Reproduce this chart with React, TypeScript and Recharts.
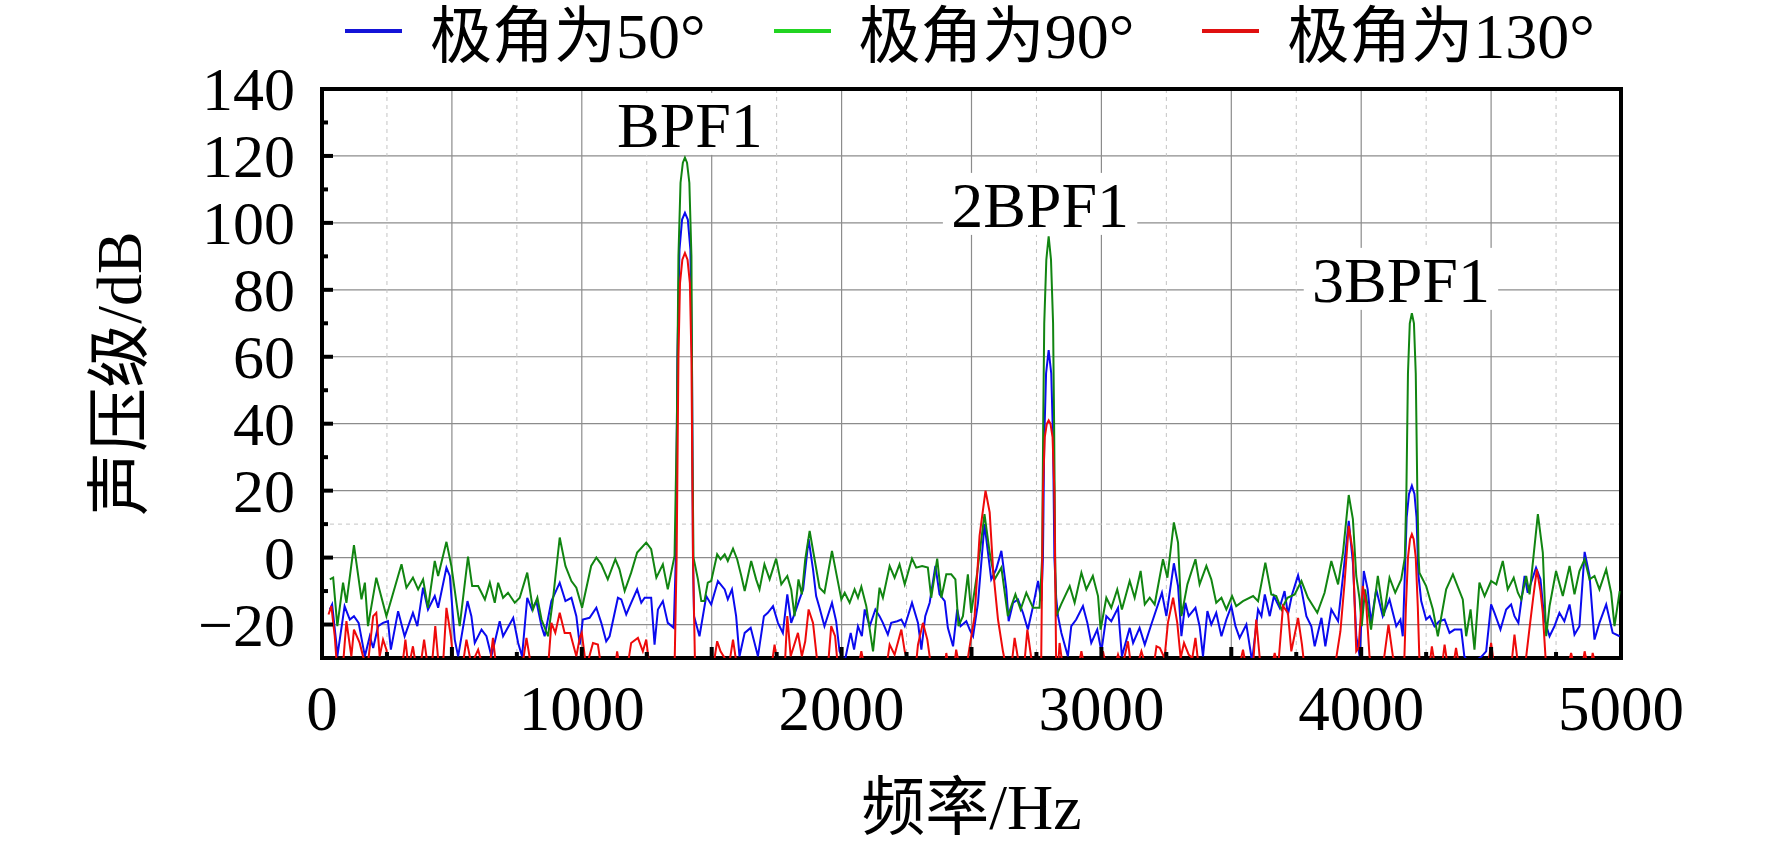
import React from 'react';
import {
  CartesianGrid,
  Line,
  LineChart,
  ReferenceArea,
  ReferenceDot,
  XAxis,
  YAxis,
} from 'recharts';

// Spectrum: [frequency Hz, SPL dB]. Values under the
// -30 dB floor are written as -33 and clipped by the plot area.
const POLAR_50: [number, number][] = [
  [30, -15.5], [39, -14], [55, -25.5], [59, -29.5], [87, -14.5], [107, -18.5], [123, -17.5],
  [141, -19.5], [165, -29.5], [184, -23.5], [197, -27], [216, -20.5], [235, -19.5], [254, -19],
  [265, -27.5], [293, -16], [318, -23.5], [350, -16.5], [367, -20.5], [389, -9], [408, -15.5],
  [434, -11.5], [447, -15], [479, -3], [492, -5.5], [511, -24.5], [524, -29.5], [560, -13],
  [575, -17.5], [588, -25.5], [614, -21.5], [633, -23.5], [652, -29.5], [684, -19], [697, -23.5],
  [736, -18], [755, -25.5], [770, -29.5], [790, -12], [808, -15.5], [825, -13], [845, -20.5],
  [857, -23.5], [883, -13], [915, -7.5], [937, -13], [960, -12], [979, -17.5], [992, -26],
  [1004, -18.5], [1030, -18], [1056, -15], [1075, -19.5], [1094, -25], [1107, -23.5],
  [1139, -12], [1152, -12.5], [1171, -17], [1190, -13.5], [1213, -9.5], [1229, -13.5],
  [1242, -12], [1267, -12], [1280, -26], [1293, -15.5], [1312, -13], [1331, -19.5], [1354, -21],
  [1362, 0], [1368, 60], [1376, 92], [1386, 101], [1397, 103], [1408, 101], [1418, 92],
  [1424, 60], [1428, 0], [1432, -17.5],
  [1453, -23.5], [1479, -11.5], [1498, -14], [1524, -7], [1550, -9.5], [1562, -12.5],
  [1578, -9.5], [1594, -17.5], [1607, -29.5], [1627, -22.5], [1650, -21], [1678, -29.5],
  [1701, -17.5], [1716, -16.5], [1736, -14.5], [1755, -19.5], [1774, -22.5], [1791, -11],
  [1806, -19.5], [1825, -15.5], [1838, -12.5], [1852, -9.5], [1873, 5.5], [1890, -3.5],
  [1902, -11.5], [1915, -15], [1934, -20.5], [1963, -13.5], [1979, -19], [1992, -28],
  [2012, -31], [2035, -22.5], [2048, -27.5], [2063, -20.5], [2078, -23.5], [2089, -15.5],
  [2108, -20.5], [2130, -15.5], [2146, -17.5], [2159, -19.5], [2178, -23], [2191, -19.5],
  [2214, -19], [2230, -18.5], [2243, -20.5], [2271, -13.5], [2294, -19.5], [2307, -27.5],
  [2322, -17.5], [2339, -13.5], [2361, -2.5], [2377, -11], [2397, -13], [2409, -21],
  [2429, -26.5], [2445, -15.5], [2458, -20.5], [2480, -19], [2493, -21.5], [2506, -23.5],
  [2525, -13.5], [2550, 10], [2576, -6.5], [2595, -3.5], [2615, 2], [2634, -9.5], [2643, -19],
  [2660, -13.5], [2679, -12.5], [2698, -16.5], [2717, -21.5], [2737, -14.5], [2756, -7],
  [2769, -13],
  [2775, 0], [2780, 35], [2787, 55], [2797, 62], [2807, 55], [2814, 35], [2819, 0], [2826, -12],
  [2833, -17.5], [2846, -22.5], [2871, -29.5], [2884, -20.5], [2903, -18.5], [2929, -14.5],
  [2946, -19.5], [2961, -25.5], [2984, -21.5], [3000, -28], [3019, -17.5], [3038, -19],
  [3064, -15], [3079, -29.5], [3109, -21], [3122, -25.5], [3147, -21], [3167, -26], [3192, -20],
  [3233, -10.5], [3250, -17.5], [3279, -1.7], [3295, -8.5], [3308, -23.5], [3323, -13.5],
  [3336, -17.5], [3362, -15], [3378, -20.5], [3391, -29.5], [3408, -16], [3423, -20],
  [3442, -16.5], [3462, -23.5], [3481, -18.5], [3500, -14.5], [3516, -20.5], [3532, -24],
  [3558, -20], [3580, -31], [3603, -15.5], [3616, -17.5], [3629, -11], [3648, -17.5],
  [3664, -11.5], [3686, -15], [3705, -10], [3718, -17], [3734, -11], [3757, -5.3], [3770, -9.5],
  [3789, -17.5], [3808, -20.5], [3821, -26.5], [3847, -18], [3862, -26.5], [3885, -15.5],
  [3911, -19], [3930, -5.5], [3952, 11], [3968, -1.5], [3981, -23.5], [3994, -29.5],
  [4010, -4], [4025, -9.5], [4038, -19.5], [4058, -9.5], [4083, -17.5], [4109, -12.5],
  [4135, -20.5], [4151, -18.5], [4160, -23.5],
  [4168, -5], [4175, 12], [4184, 19], [4195, 21.5], [4205, 19], [4213, 12], [4220, -5],
  [4231, -13], [4250, -18.5], [4264, -17.5], [4282, -20.5], [4301, -19], [4321, -18.5],
  [4340, -22.5], [4359, -21.5], [4385, -21.5], [4397, -29.5], [4420, -32], [4464, -29.5],
  [4481, -28], [4500, -14], [4513, -16.5], [4536, -21.5], [4558, -15.5], [4577, -14],
  [4590, -17.5], [4605, -19.5], [4629, -5.5], [4641, -10.5], [4673, -3], [4690, -6.5],
  [4705, -18.5], [4725, -23.5], [4744, -20.5], [4763, -16.5], [4782, -19], [4802, -14],
  [4821, -23], [4840, -20.5], [4860, 1.7], [4879, -5.5], [4898, -24.5], [4917, -19.5],
  [4943, -14], [4968, -22.5], [4995, -23.5],
];

const POLAR_90: [number, number][] = [
  [30, -6.5], [43, -6], [59, -20.5], [81, -7.5], [94, -13.5], [123, 3.7], [152, -12.5],
  [165, -7.5], [177, -20.5], [209, -6], [248, -17.5], [306, -2], [325, -9], [350, -6],
  [370, -9.5], [389, -6.5], [408, -15], [434, -1], [447, -5.5], [479, 4.7], [498, -2.5],
  [530, -20.5], [562, 0.3], [578, -8.5], [601, -8.5], [627, -12.5], [646, -7.5], [665, -13.5],
  [678, -7.5], [697, -12], [716, -10.5], [742, -13.5], [761, -12], [790, -4.5], [812, -15.5],
  [829, -12], [845, -18.5], [870, -23.5], [889, -12.5], [915, 6], [937, -2.5], [960, -7],
  [979, -9], [1001, -15], [1036, -2.5], [1056, 0], [1075, -2], [1100, -6.5], [1129, -0.5],
  [1145, -3.5], [1165, -10], [1190, -4.5], [1213, 1.5], [1248, 4.5], [1267, 2.5], [1287, -6],
  [1312, -2], [1331, -9.5], [1357, 0.5],
  [1366, 40], [1372, 90], [1380, 112], [1389, 118], [1397, 119.5], [1405, 118], [1414, 112],
  [1422, 90], [1426, 30], [1430, 0],
  [1447, -6.5], [1460, -13], [1472, -13], [1485, -7.5], [1498, -7], [1521, 1], [1534, -0.5],
  [1550, 1], [1562, -1], [1582, 2.7], [1598, -0.5], [1614, -5.5], [1627, -10], [1652, -1],
  [1671, -6.5], [1684, -9.5], [1703, -2], [1723, -6.5], [1748, -0.3], [1768, -8], [1791, -5.5],
  [1806, -9.5], [1819, -17.5], [1834, -6.5], [1847, -11], [1860, -0.5], [1877, 8], [1896, -0.5],
  [1915, -9], [1934, -10.5], [1963, 2], [1979, -4.5], [1999, -12.5], [2012, -10.5],
  [2031, -13.5], [2050, -9.5], [2063, -12], [2076, -8.7], [2095, -14.5], [2121, -28],
  [2146, -9], [2159, -12], [2185, -2.5], [2204, -6], [2223, -2], [2243, -8], [2271, -0.3],
  [2287, -3], [2310, -2.5], [2332, -3], [2345, -12], [2368, -0.3], [2384, -12], [2403, -5],
  [2422, -5], [2438, -6.5], [2450, -20.5], [2467, -17.5], [2486, -5], [2499, -16.5],
  [2522, -4.5], [2550, 13], [2570, 1.5], [2589, -6.5], [2615, -3], [2640, -17.5], [2669, -11],
  [2689, -15.5], [2711, -10.5], [2737, -15], [2762, -15],
  [2772, 0], [2776, 40], [2780, 70], [2788, 89], [2797, 96], [2806, 89], [2814, 70],
  [2818, 40], [2822, 0], [2826, -17.5],
  [2845, -14], [2878, -8.5], [2897, -13.5], [2923, -4.5], [2942, -9.5], [2967, -5.5],
  [2987, -11.5], [2997, -21.5], [3019, -12], [3038, -15], [3061, -9.5], [3079, -15.5],
  [3109, -7], [3128, -12], [3151, -4], [3167, -14], [3186, -12], [3205, -14], [3237, -0.5],
  [3254, -6], [3279, 10.5], [3295, 4.5], [3308, -17.5], [3331, -8], [3362, -0.5], [3378, -8],
  [3404, -2.5], [3423, -6.5], [3442, -13.5], [3462, -12], [3481, -15.5], [3503, -11.5],
  [3519, -14.5], [3545, -13], [3584, -11.5], [3603, -13], [3631, -1.5], [3654, -11],
  [3673, -11.5], [3693, -15.5], [3716, -12], [3744, -11], [3770, -7], [3795, -12],
  [3831, -16.5], [3859, -10.5], [3885, -1], [3911, -8], [3930, 1.5], [3952, 18.7],
  [3968, 11.5], [3981, -5.5], [3994, -12.5], [4002, -20.5], [4015, -9.5], [4038, -21.5],
  [4064, -5.5], [4087, -17.5], [4109, -6], [4131, -10.5], [4154, -6.5],
  [4168, 0], [4174, 20], [4180, 55], [4187, 70], [4195, 73], [4203, 70], [4210, 55],
  [4216, 20], [4221, 0], [4224, -4.5],
  [4250, -8.5], [4276, -15.5], [4295, -23.5], [4327, -9.5], [4353, -5], [4391, -12.5],
  [4404, -23.5], [4421, -15.5], [4436, -27.5], [4455, -7.5], [4475, -11.5], [4500, -7],
  [4520, -8], [4545, -1], [4564, -9.5], [4587, -6], [4603, -10.5], [4616, -12.5], [4635, -5.5],
  [4648, -11], [4680, 13], [4699, 1.5], [4712, -23.5], [4725, -14.5], [4750, -4], [4776, -11.5],
  [4802, -2.5], [4821, -11], [4840, -4], [4860, -0.5], [4879, -6.5], [4898, -5.5],
  [4917, -9.5], [4943, -3.5], [4962, -10.5], [4975, -20.5], [4995, -10],
];

const POLAR_130: [number, number][] = [
  [25, -17], [36, -14.5], [49, -23.5], [58, -33], [80, -33], [94, -19], [113, -29.5],
  [123, -21.5], [145, -25.5], [158, -29.5], [175, -33], [197, -17.5], [209, -16.5],
  [222, -29.5], [235, -24.5], [248, -27.5], [258, -33], [308, -33], [321, -24.5], [333, -33],
  [350, -26.5], [363, -33], [378, -33], [393, -24.5], [408, -33], [422, -33], [436, -20.5],
  [450, -33], [465, -33], [479, -15], [496, -23.5], [508, -33], [540, -33], [556, -24.5],
  [575, -32], [601, -27.5], [620, -33], [645, -33], [658, -24], [671, -33], [770, -33],
  [787, -24], [806, -33], [870, -33], [883, -19.5], [898, -22.5], [915, -16.5], [934, -22.5],
  [955, -22.5], [979, -29.5], [992, -24], [1000, -22.5], [1017, -33], [1043, -25.5],
  [1062, -26], [1075, -33], [1128, -33], [1136, -28], [1146, -33], [1175, -33], [1190, -25.5],
  [1216, -24], [1235, -28], [1248, -24.5], [1261, -33], [1357, -33],
  [1365, 0], [1372, 60], [1378, 82], [1387, 89], [1397, 91], [1407, 89], [1416, 82],
  [1422, 60], [1428, 0], [1436, -33],
  [1505, -33], [1521, -25], [1534, -28], [1550, -30], [1565, -33], [1582, -24.5], [1598, -33],
  [1729, -33], [1742, -26], [1755, -33], [1781, -33], [1791, -17.5], [1804, -29.5],
  [1832, -22.5], [1847, -29.5], [1860, -25], [1873, -15.5], [1890, -19.5], [1909, -33],
  [1947, -33], [1960, -20.5], [1975, -23.5], [1986, -33], [2063, -33], [2076, -28], [2089, -33],
  [2172, -33], [2185, -26], [2204, -29], [2230, -21.5], [2243, -28], [2262, -33], [2285, -33],
  [2294, -26], [2313, -19.5], [2330, -24.5], [2345, -33], [2397, -33], [2403, -28.5],
  [2412, -33], [2433, -33], [2441, -27.5], [2454, -33], [2480, -33], [2493, -26.5],
  [2512, -17.5], [2531, 6.5], [2554, 20], [2570, 13.5], [2583, -3.5], [2602, -18.5],
  [2621, -28], [2634, -33], [2653, -33], [2666, -24], [2685, -33], [2702, -33], [2715, -21.5],
  [2730, -30], [2760, -33],
  [2768, -33], [2775, 20], [2782, 36], [2790, 40], [2797, 41], [2804, 40], [2812, 36],
  [2819, 20], [2826, -33],
  [2833, -33], [2839, -25.5], [2852, -33], [2910, -33], [2923, -28], [2936, -33], [2995, -33],
  [3006, -28], [3020, -33], [3050, -33], [3064, -29], [3080, -33], [3102, -25], [3115, -33],
  [3135, -33], [3154, -28], [3173, -33], [3200, -33], [3212, -26.5], [3225, -27], [3243, -30],
  [3256, -19.5], [3276, -12], [3292, -19.5], [3305, -30], [3318, -25.5], [3336, -29],
  [3350, -30], [3362, -24], [3375, -33], [3530, -33], [3545, -27.5], [3558, -33], [3583, -33],
  [3596, -18.5], [3613, -33], [3655, -33], [3667, -28.5], [3680, -33], [3699, -14.5],
  [3718, -16.5], [3731, -28], [3757, -18], [3772, -26], [3782, -33], [3898, -33], [3920, -22],
  [3936, -7.5], [3952, 9.5], [3968, 1.5], [3981, -28], [3990, -27], [4006, -8.5],
  [4019, -13.5], [4032, -29.5], [4045, -33], [4083, -33], [4105, -20], [4122, -29.5],
  [4140, -33], [4165, -33],
  [4172, -15], [4180, 0], [4188, 5.5], [4195, 7], [4202, 5.5], [4210, 0], [4218, -15],
  [4225, -33],
  [4262, -33], [4272, -26.5], [4285, -33], [4310, -33], [4321, -26], [4334, -33], [4353, -33],
  [4365, -27], [4378, -33], [4487, -33], [4500, -25.5], [4513, -33], [4577, -33], [4590, -23],
  [4605, -33], [4630, -33], [4648, -21], [4662, -12], [4676, -3.5], [4690, -10], [4699, -16.5],
  [4712, -33], [4795, -33], [4808, -28.5], [4821, -33], [4850, -33], [4860, -28], [4873, -33],
  [4883, -33], [4891, -28.5], [4904, -33], [4960, -33],
];

const X_TICKS = [
  0, 250, 500, 750, 1000, 1250, 1500, 1750, 2000, 2250, 2500, 2750, 3000, 3250, 3500, 3750,
  4000, 4250, 4500, 4750, 5000,
];
const Y_TICKS = [-30, -20, -10, 0, 10, 20, 30, 40, 50, 60, 70, 80, 90, 100, 110, 120, 130, 140];
const GRID_X = [500, 1000, 1500, 2000, 2500, 3000, 3500, 4000, 4500];
const GRID_Y = [-20, 0, 20, 40, 60, 80, 100, 120];
const MINOR_GRID_X = [250, 750, 1250, 1750, 2250, 2750, 3250, 3750, 4250, 4750];
const MINOR_GRID_Y = [10];

const PEAK_LABELS = [
  { text: 'BPF1', f: 1416, db: 122.7 },
  { text: '2BPF1', f: 2764, db: 98.8 },
  { text: '3BPF1', f: 4153, db: 76.4 },
];

const SERIES = [
  { prefix: '极角为', angle: '50°', points: POLAR_50, color: '#0a0aef', key: '#1414d8' },
  { prefix: '极角为', angle: '90°', points: POLAR_90, color: '#118511', key: '#22d422' },
  { prefix: '极角为', angle: '130°', points: POLAR_130, color: '#ee0a0a', key: '#e01010' },
];

const FONT = '"Liberation Serif", "Times New Roman", "Noto Sans CJK SC", serif';
const LATIN = '"Liberation Serif", "Times New Roman", serif';
const TICK_GAP = 27;

function YTick({ x, y, payload }: any) {
  const v = payload.value as number;
  const axisX = x + TICK_GAP;
  const edge = v === -30 || v === 140;
  const len = v % 20 === 0 ? 11 : 6;
  return (
    <g>
      {!edge && <line x1={axisX} x2={axisX + len} y1={y} y2={y} stroke="#000" strokeWidth={4} />}
      {v % 20 === 0 && (
        <text x={x} y={y + 21} textAnchor="end" fontSize={62} fontFamily={FONT} fill="#000">
          {v < 0 ? `−${-v}` : v}
        </text>
      )}
    </g>
  );
}

function XTick({ x, y, payload }: any) {
  const v = payload.value as number;
  const edge = v === 0 || v === 5000;
  const len = v % 500 === 0 ? 11 : 6;
  return (
    <g>
      {!edge && <line x1={x} x2={x} y1={y} y2={y - len} stroke="#000" strokeWidth={4} />}
      {v % 1000 === 0 && (
        <text x={x} y={y + 72} textAnchor="middle" fontSize={63} fontFamily={FONT} fill="#000">
          {v}
        </text>
      )}
    </g>
  );
}

function PeakLabel({ cx, cy, text }: any) {
  const w = text.length * 0.57 * 64 + 12;
  return (
    <g>
      <rect x={cx - w / 2} y={cy - 54} width={w} height={62} fill="#fff" />
      <text x={cx} y={cy} textAnchor="middle" fontSize={64} fontFamily={FONT} fill="#000">
        {text}
      </text>
    </g>
  );
}

function Legend() {
  return (
    <div
      style={{
        position: 'absolute',
        top: 6,
        left: 345,
        display: 'flex',
        gap: 68,
        fontFamily: FONT,
        fontSize: 62,
        lineHeight: '62px',
        height: 62,
        whiteSpace: 'nowrap',
      }}
    >
      {SERIES.map((s) => (
        <div key={s.angle} style={{ display: 'flex', alignItems: 'center' }}>
          <span
            style={{
              display: 'block',
              width: 57,
              height: 4,
              background: s.key,
              marginRight: 28,
              position: 'relative',
              top: -6,
            }}
          />
          <span>{s.prefix}</span>
          <span style={{ fontFamily: LATIN, fontSize: 64 }}>{s.angle}</span>
        </div>
      ))}
    </div>
  );
}

export default function App() {
  return (
    <div
      style={{
        position: 'absolute',
        left: 0,
        top: 0,
        width: 1772,
        height: 849,
        background: '#fff',
        fontFamily: FONT,
      }}
    >
      <LineChart width={1772} height={849} margin={{ top: 89, right: 151, bottom: 0, left: 0 }}>
        <CartesianGrid
          stroke="#8c8c8c"
          strokeWidth={1.2}
          horizontalValues={GRID_Y}
          verticalValues={GRID_X}
        />
        <CartesianGrid
          stroke="#c4c4c4"
          strokeDasharray="4 4"
          horizontalValues={MINOR_GRID_Y}
          verticalValues={MINOR_GRID_X}
        />
        <XAxis
          type="number"
          dataKey="f"
          domain={[0, 5000]}
          ticks={X_TICKS}
          interval={0}
          allowDataOverflow
          height={191}
          axisLine={false}
          tickLine={false}
          tickSize={0}
          tickMargin={0}
          tick={<XTick />}
          label={{
            content: ({ viewBox }: any) => (
              <text
                x={viewBox.x + viewBox.width / 2}
                y={viewBox.y + 171}
                textAnchor="middle"
                fontSize={64}
                fontFamily={FONT}
                fill="#000"
              >
                频率/Hz
              </text>
            ),
          }}
        />
        <YAxis
          type="number"
          domain={[-30, 140]}
          ticks={Y_TICKS}
          interval={0}
          allowDataOverflow
          width={322}
          axisLine={false}
          tickLine={false}
          tickSize={TICK_GAP}
          tickMargin={0}
          tick={<YTick />}
          label={{
            content: ({ viewBox }: any) => {
              const cy = viewBox.y + viewBox.height / 2;
              return (
                <text
                  x={141}
                  y={cy}
                  transform={`rotate(-90 141 ${cy})`}
                  textAnchor="middle"
                  fontSize={64}
                  fontFamily={FONT}
                  fill="#000"
                >
                  声压级/dB
                </text>
              );
            },
          }}
        />
        {SERIES.map((s) => (
          <Line
            key={s.angle}
            name={s.prefix + s.angle}
            data={s.points.map(([f, db]) => ({ f, db }))}
            dataKey="db"
            type="linear"
            stroke={s.color}
            strokeWidth={2}
            dot={false}
            isAnimationActive={false}
          />
        ))}
        <ReferenceArea
          x1={0}
          x2={5000}
          y1={-30}
          y2={140}
          fill="none"
          stroke="#000"
          strokeWidth={4}
        />
        {PEAK_LABELS.map((p) => (
          <ReferenceDot
            key={p.text}
            x={p.f}
            y={p.db}
            r={0}
            shape={(props: any) => <PeakLabel {...props} text={p.text} />}
          />
        ))}
      </LineChart>
      <Legend />
    </div>
  );
}
